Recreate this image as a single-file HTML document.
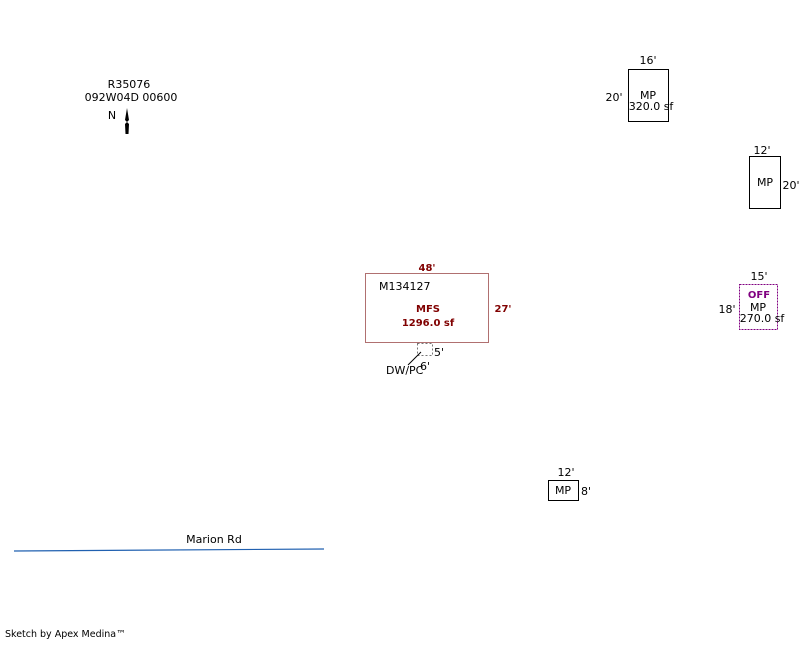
<!DOCTYPE html>
<html><head><meta charset="utf-8"><style>
body{margin:0;background:#fff}
svg text{font-family:"DejaVu Sans","Liberation Sans",sans-serif;font-size:11px}
svg text.b{font-size:10px;font-weight:bold}
</style></head><body>
<svg width="800" height="640" xmlns="http://www.w3.org/2000/svg">
<text x="129" y="88" text-anchor="middle">R35076</text>
<text x="131" y="101" text-anchor="middle">092W04D 00600</text>
<text x="112" y="119" text-anchor="middle">N</text>
<path d="M127 108 L129 120 L127 122 L129 124 L128.5 134 L125.5 134 L125 124 L127 122 L125 120 Z" fill="#000"/>

<rect x="628.5" y="69.5" width="40" height="52" fill="none" stroke="#000"/>
<text x="648" y="64" text-anchor="middle">16'</text>
<text x="614" y="101" text-anchor="middle">20'</text>
<text x="648" y="99" text-anchor="middle">MP</text>
<text x="651" y="110" text-anchor="middle">320.0 sf</text>

<rect x="749.5" y="156.5" width="31" height="52" fill="none" stroke="#000"/>
<text x="762" y="154" text-anchor="middle">12'</text>
<text x="765" y="186" text-anchor="middle">MP</text>
<text x="791" y="189" text-anchor="middle">20'</text>

<rect x="365.5" y="273.5" width="123" height="69" fill="none" stroke="#b07070"/>
<text x="427" y="271" text-anchor="middle" fill="#800000" class="b">48'</text>
<text x="503" y="312" text-anchor="middle" fill="#800000" class="b">27'</text>
<text x="379" y="290">M134127</text>
<text x="428" y="312" text-anchor="middle" fill="#800000" class="b">MFS</text>
<text x="428" y="326" text-anchor="middle" fill="#800000" class="b">1296.0 sf</text>
<rect x="417.5" y="343.5" width="15" height="12" fill="none" stroke="#777" stroke-dasharray="2,2"/>
<text x="434" y="356">5'</text>
<text x="420" y="370">6'</text>
<line x1="408" y1="365" x2="421" y2="352" stroke="#000"/>
<text x="386" y="374">DW/PC</text>

<rect x="739.5" y="284.5" width="38" height="45" fill="none" stroke="#800080" stroke-dasharray="2,1"/>
<text x="759" y="280" text-anchor="middle">15'</text>
<text x="759" y="298" text-anchor="middle" fill="#800080" class="b">OFF</text>
<text x="727" y="313" text-anchor="middle">18'</text>
<text x="758" y="311" text-anchor="middle">MP</text>
<text x="762" y="322" text-anchor="middle">270.0 sf</text>

<rect x="548.5" y="480.5" width="30" height="20" fill="none" stroke="#000"/>
<text x="566" y="476" text-anchor="middle">12'</text>
<text x="563" y="494" text-anchor="middle">MP</text>
<text x="586" y="495" text-anchor="middle">8'</text>

<line x1="14" y1="551" x2="324" y2="549" stroke="#2060b0" stroke-width="1.2"/>
<text x="214" y="543" text-anchor="middle">Marion Rd</text>
<text x="5" y="637" style="font-size:9.5px">Sketch by Apex Medina™</text>
</svg>
</body></html>
